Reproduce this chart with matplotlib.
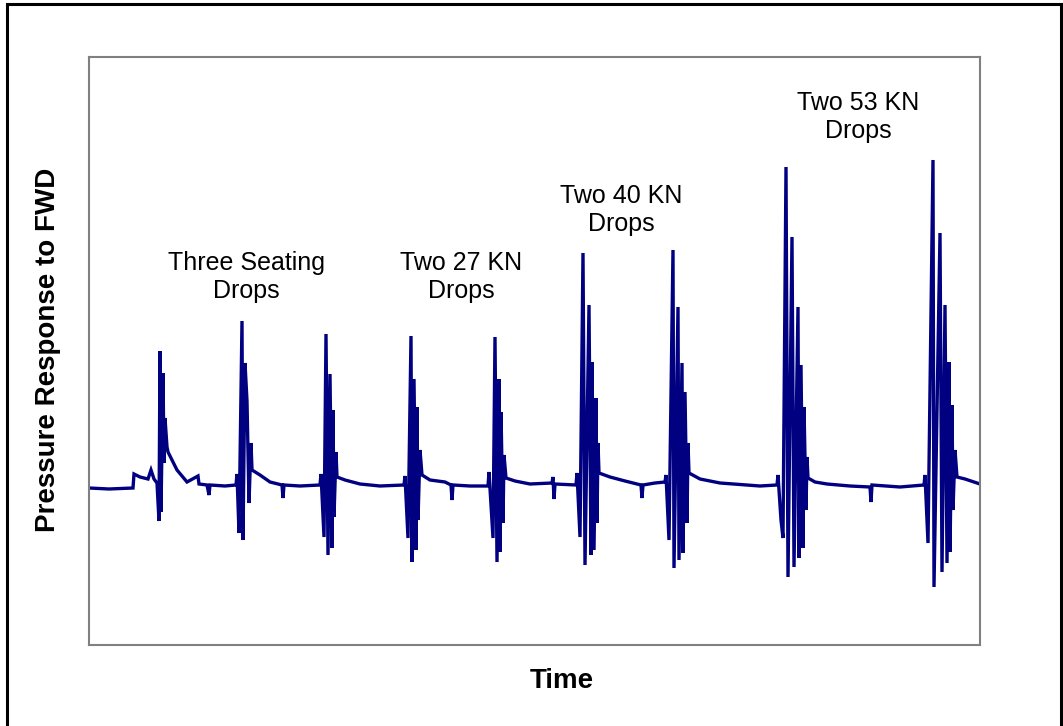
import matplotlib.pyplot as plt
from matplotlib.patches import Rectangle

plt.rcParams['font.family'] = ['Liberation Sans', 'DejaVu Sans']

# pressure trace, grouped by drop series (time, pressure in arbitrary units)
seating_t = [0, 20, 44, 45, 51, 59, 62, 65, 68, 70, 71, 72, 74, 75, 76, 78, 79, 88, 98, 109, 110,
             118, 120, 121, 136, 147, 148, 150, 153, 154, 156, 158, 160, 162, 163, 171, 181,
             193, 194, 195, 211, 231, 232, 235, 237, 239, 241, 243, 244, 245, 247, 248, 256,
             271, 291, 315]
seating_p = [-1, -2, -1, 13, 10, 8, 17, 8, 4, -34, 136, -25, 114, 24, 69, 40, 35, 17, 5, 11, 3,
             2, -8, 2, 1, 2, 13, -46, 166, -53, 124, 86, -16, 44, 17, 12, 5,
             2, -11, 2, 1, 2, 13, -50, 153, -68, 113, -61, 77, -30, 35, 10, 7,
             3, 1, 2]

kn27_t = [316, 319, 322, 323, 325, 327, 328, 329, 331, 333, 341, 356, 362, 363, 364, 381,
          399, 400, 404, 406, 408, 410, 411, 412, 414, 415, 417, 426, 441, 463, 464, 465,
          466, 487]
kn27_p = [11, -51, 151, -75, 108, -63, 80, -33, 37, 12, 7, 5, 2, -13, 2, 1,
          1, 15, -51, 150, -75, 108, -65, 75, -36, 32, 9, 6, 3, 4, 10, -12,
          3, 2]

kn40_t = [488, 491, 494, 496, 500, 502, 503, 505, 507, 508, 509, 510, 521, 536, 552, 553,
          554, 566, 576, 577, 580, 584, 585, 589, 590, 593, 594, 596, 598, 599, 600, 611,
          631, 671, 688]
kn40_p = [14, -50, 234, -78, 182, -68, 125, -63, 89, -36, 44, 14, 10, 6, 2, -11,
          2, 4, 5, 12, -53, 237, -81, 180, -73, 124, -66, 95, -36, 44, 14, 8,
          4, 1, 2]

kn53_t = [689, 692, 694, 697, 699, 703, 705, 709, 710, 712, 714, 715, 717, 718, 719, 726,
          738, 761, 781, 782, 783, 811, 835, 836, 839, 844, 845, 851, 853, 856, 858, 860,
          861, 863, 864, 866, 868, 876, 891]
kn53_p = [12, -33, -51, 320, -90, 250, -80, 180, -71, 122, -61, 80, -23, 30, 9, 5,
          3, 1, 0, -15, 2, 0, 2, 12, -56, 327, -100, 254, -85, 182, -76, 125,
          -65, 82, -23, 37, 10, 8, 3]

labels = ["Three Seating\nDrops", "Two 27 KN\nDrops", "Two 40 KN\nDrops", "Two 53 KN\nDrops"]
label_t = [157, 372, 532, 769]
label_p = [210, 210, 277, 370]

time = seating_t + kn27_t + kn40_t + kn53_t
pressure = seating_p + kn27_p + kn40_p + kn53_p

fig = plt.figure(figsize=(10.63, 7.26), dpi=100)
ax = fig.add_axes([89 / 1063, 1 - 645 / 726, 891 / 1063, 588 / 726])

ax.plot(time, pressure, color='#000080', linewidth=2.4, solid_joinstyle='miter')

for txt, t, p in zip(labels, label_t, label_p):
    ax.text(t, p, txt, ha='center', va='center', fontsize=18, color='black', linespacing=1.2)

ax.set_xlim(0, 891)
ax.set_ylim(-158, 430)
ax.set_xticks([])
ax.set_yticks([])
for s in ax.spines.values():
    s.set_color('#808080')
    s.set_linewidth(1.5)

fig.text(562 / 1063, 1 - 681 / 726, "Time", ha='center', va='center', fontsize=20, fontweight='bold')
fig.text(48 / 1063, 1 - 350 / 726, "Pressure Response to FWD", ha='center', va='center',
         rotation=90, fontsize=20, fontweight='bold')

# outer chart frame (bottom edge falls outside the image)
fig.patches.append(Rectangle((6.5 / 1063, -0.05), 1054.5 / 1063, 1.05 - 4 / 726,
                             transform=fig.transFigure, fill=False, edgecolor='black',
                             linewidth=2.2))

fig.savefig('out.png', dpi=100)
